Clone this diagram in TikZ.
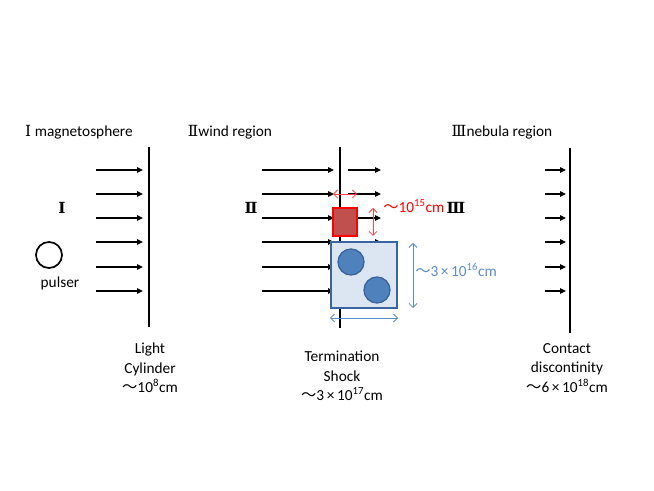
\documentclass[tikz,border=0pt]{standalone}
\usepackage{fontspec}
\setmainfont{Carlito}
\newfontfamily\cjk{Noto Sans CJK JP}
\newfontfamily\romfont{DejaVu Serif}
\usetikzlibrary{arrows.meta}
\definecolor{shockred}{HTML}{C0504D}
\definecolor{blobblue}{HTML}{4F81BD}
\definecolor{blobedge}{HTML}{3A64A0}
\definecolor{boxblue}{HTML}{DCE6F2}
\definecolor{lineblue}{HTML}{5B8BC9}
\newcommand{\wave}{{\cjk 〜}}
\begin{document}
\begin{tikzpicture}[x=0.75pt,y=-0.75pt,
	flow/.style={-{Triangle[length=4.5pt,width=4pt]},line width=1.2pt},
	wall/.style={line width=1.3pt},
	lbl/.style={align=center,font=\fontsize{11.5}{14.5}\selectfont},
	roman/.style={font=\fontsize{11.5}{14}\romfont\bfseries},
	sizered/.style={{Straight Barb[length=3pt]}-{Straight Barb[length=3pt]},red!75!white,line width=0.6pt},
	sizeblue/.style={{Straight Barb[length=3pt]}-{Straight Barb[length=3pt]},lineblue,line width=0.6pt}]
	\useasboundingbox (0,0) rectangle (654,491);
	% titles
	\node[lbl] (titleI) at (79,132) {{\romfont Ⅰ} magnetosphere};
	\node[lbl] (titleII) at (230,132) {{\romfont Ⅱ}wind region};
	\node[lbl] (titleIII) at (502,132) {{\romfont Ⅲ}nebula region};
	% region I
	\coordinate (lcTop) at (149,147); \coordinate (lcBot) at (149,327);
	\draw[wall] (lcTop)--(lcBot); %light cylinder
	\foreach \y [count=\i] in {170,194,218,242,267,291}{
		\coordinate (mA\i) at (96,\y); \coordinate (mB\i) at (143,\y);
		\draw[flow] (mA\i)--(mB\i);}
	\node[roman] (numI) at (62,208) {Ⅰ};
	\node[draw,circle,minimum size=19.5pt,line width=1.3pt] (pulsar) at (49,255) {};
	\node[lbl] (psrtext) at (60,283) {pulser};
	\node[lbl] (lctext) at (150,368) {Light\\Cylinder\\\wave10\textsuperscript{8}cm};
	% region II
	\coordinate (tsTop) at (340,147); \coordinate (tsBot) at (340,328);
	\draw[wall] (tsTop)--(tsBot); %termination shock
	\foreach \y [count=\i] in {170,194,218,242,267,291}{
		\coordinate (wA\i) at (262,\y); \coordinate (wB\i) at (334,\y);
		\draw[flow] (wA\i)--(wB\i);}
	\foreach \y [count=\i] in {170,194,218,242}{
		\coordinate (oA\i) at (348,\y); \coordinate (oB\i) at (381,\y);
		\draw[flow] (oA\i)--(oB\i);}
	\node[roman] (numII) at (251,208) {Ⅱ};
	\node[draw=red,fill=shockred,line width=1pt,minimum width=18pt,minimum height=21pt,inner sep=0pt] (knot) at (345,222) {};
	\node[draw=blobedge,fill=boxblue,line width=1pt,minimum size=49.5pt,inner sep=0pt] (cell) at (364,275) {};
	\node[draw=blobedge,fill=blobblue,circle,line width=1pt,minimum size=19.5pt,inner sep=0pt] (blobA) at (351,262) {};
	\node[draw=blobedge,fill=blobblue,circle,line width=1pt,minimum size=19.5pt,inner sep=0pt] (blobB) at (377,290) {};
	\coordinate (rA) at (333,194); \coordinate (rB) at (357,194);
	\draw[sizered] (rA)--(rB);
	\coordinate (rC) at (373,208); \coordinate (rD) at (373,236);
	\draw[sizered] (rC)--(rD);
	\coordinate (bA) at (413,243); \coordinate (bB) at (413,308);
	\draw[sizeblue] (bA)--(bB);
	\coordinate (bC) at (330,318); \coordinate (bD) at (398,318);
	\draw[sizeblue] (bC)--(bD);
	\node[lbl,anchor=west,red,inner sep=0pt] (knotsize) at (383,206) {\wave10\textsuperscript{15}cm};
	\node[roman] (numIII) at (456,208) {Ⅲ};
	\node[lbl,anchor=west,lineblue,inner sep=0pt] (cellsize) at (415,270) {\wave3\,×\,10\textsuperscript{16}cm};
	\node[lbl] (tstext) at (342,376) {Termination\\Shock\\\wave3\,×\,10\textsuperscript{17}cm};
	% region III
	\coordinate (cdTop) at (570,148); \coordinate (cdBot) at (570,333);
	\draw[wall] (cdTop)--(cdBot); %contact discontinuity
	\foreach \y [count=\i] in {170,194,218,242,267,291}{
		\coordinate (nA\i) at (545,\y); \coordinate (nB\i) at (566,\y);
		\draw[flow] (nA\i)--(nB\i);}
	\node[lbl] (cdtext) at (567,368) {Contact\\discontinity\\\wave6\,×\,10\textsuperscript{18}cm};
\end{tikzpicture}
\end{document}
